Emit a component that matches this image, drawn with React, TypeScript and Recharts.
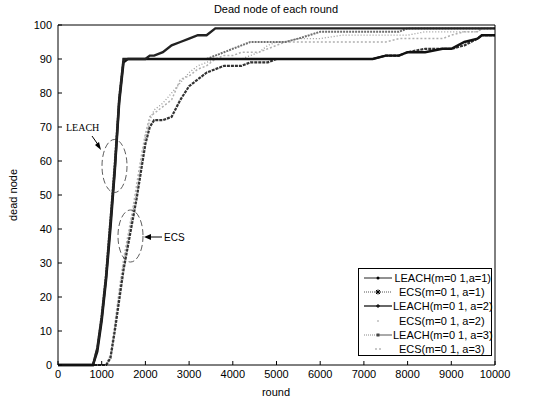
import React from "react";
import { LineChart, Line, XAxis, YAxis } from "recharts";

// rounds sampled along the x axis
const rounds = [
  0, 700, 800, 900, 1000, 1100, 1200, 1300, 1400, 1500,
  1600, 1700, 1800, 1900, 2000, 2100, 2200, 2400, 2600, 2800,
  3000, 3200, 3400, 3600, 3800, 4000, 4200, 4400, 4600, 4800,
  5000, 5200, 5500, 6000, 6500, 7000, 7200, 7500, 7800, 8000,
  8400, 8800, 9000, 9300, 9600, 9700, 10000,
];

const leachA1 = [
  0, 0, 0, 5, 14, 26, 42, 58, 78, 90,
  90, 90, 90, 90, 90, 91, 91, 92, 94, 95,
  96, 97, 97, 99, 99, 99, 99, 99, 99, 99,
  99, 99, 99, 99, 99, 99, 99, 99, 99, 99,
  99, 99, 99, 99, 99, 99, 99,
];
const leachA2 = [
  0, 0, 0, 4, 13, 25, 40, 57, 77, 89,
  90, 90, 90, 90, 90, 90, 90, 90, 90, 90,
  90, 90, 90, 90, 90, 90, 90, 90, 90, 90,
  90, 90, 90, 90, 90, 90, 90, 91, 91, 92,
  92, 93, 93, 95, 96, 97, 97,
];
const leachA3 = [
  0, 0, 0, 5, 15, 27, 43, 60, 79, 90,
  90, 90, 90, 90, 90, 90, 90, 90, 90, 90,
  90, 90, 90, 91, 92, 93, 94, 95, 95, 95,
  95, 95, 96, 98, 98, 98, 98, 98, 98, 99,
  99, 99, 99, 99, 99, 99, 99,
];
const ecsA1 = [
  0, 0, 0, 0, 0, 0, 2, 10, 19, 28,
  35, 42, 49, 57, 65, 70, 72, 72, 73, 78,
  82, 84, 86, 87, 88, 88, 88, 89, 89, 89,
  90, 90, 90, 90, 90, 90, 90, 91, 91, 92,
  93, 93, 93, 94, 96, 97, 97,
];
const ecsA2 = [
  0, 0, 0, 0, 0, 0, 3, 12, 22, 31,
  38, 45, 53, 61, 68, 73, 74, 76, 78, 84,
  85, 87, 88, 90, 91, 91, 92, 92, 92, 93,
  94, 95, 95, 95, 95, 95, 95, 95, 96, 96,
  96, 96, 97, 98, 98, 99, 99,
];
const ecsA3 = [
  0, 0, 0, 0, 0, 0, 2, 11, 21, 30,
  37, 44, 51, 59, 67, 72, 75, 77, 80, 83,
  86, 88, 89, 90, 90, 90, 90, 91, 92, 94,
  95, 95, 96, 96, 97, 97, 97, 97, 97, 97,
  98, 98, 98, 98, 98, 99, 99,
];

const xTicks = [0, 1000, 2000, 3000, 4000, 5000, 6000, 7000, 8000, 9000, 10000];
const yTicks = [0, 10, 20, 30, 40, 50, 60, 70, 80, 90, 100];

const seriesNames = [
  "LEACH(m=0 1,a=1)",
  "ECS(m=0 1, a=1)",
  "LEACH(m=0 1, a=2)",
  "ECS(m=0 1, a=2)",
  "LEACH(m=0 1, a=3)",
  "ECS(m=0 1, a=3)",
];

const data = rounds.map((r, i) => ({
  round: r,
  l1: leachA1[i],
  e1: ecsA1[i],
  l2: leachA2[i],
  e2: ecsA2[i],
  l3: leachA3[i],
  e3: ecsA3[i],
}));

const font = "'Liberation Sans', Arial, sans-serif";

// legend samples, drawn to look like the matlab legend
function LegendSample({ idx }: { idx: number }) {
  const w = 30;
  const c = 7;
  if (idx === 0)
    return (
      <svg width={w} height={14}>
        <line x1={1} y1={c} x2={w - 1} y2={c} stroke="#222" strokeWidth={1} />
        <circle cx={w / 2} cy={c} r={1.5} fill="#000" />
      </svg>
    );
  if (idx === 1)
    return (
      <svg width={w} height={14}>
        <line x1={1} y1={c} x2={w - 1} y2={c} stroke="#555" strokeWidth={1} strokeDasharray="1 1" />
        <path d={`M${w / 2 - 2.5} ${c}h5M${w / 2} ${c - 2.5}v5M${w / 2 - 2} ${c - 2}l4 4M${w / 2 + 2} ${c - 2}l-4 4`} stroke="#000" strokeWidth={1} />
      </svg>
    );
  if (idx === 2)
    return (
      <svg width={w} height={14}>
        <line x1={1} y1={c} x2={w - 1} y2={c} stroke="#000" strokeWidth={1.2} />
        <path d={`M${w / 2 - 2} ${c}h4M${w / 2} ${c - 2}v4`} stroke="#000" strokeWidth={1} />
      </svg>
    );
  if (idx === 3)
    return (
      <svg width={w} height={14}>
        <circle cx={w / 2} cy={c} r={0.7} fill="#777" />
      </svg>
    );
  if (idx === 4)
    return (
      <svg width={w} height={14}>
        <line x1={1} y1={c} x2={w / 2} y2={c} stroke="#888" strokeWidth={1} strokeDasharray="1 1" />
        <line x1={w / 2} y1={c} x2={w - 1} y2={c} stroke="#555" strokeWidth={1} />
        <rect x={w / 2 - 1.5} y={c - 1.5} width={3} height={3} fill="#444" />
      </svg>
    );
  return (
    <svg width={w} height={14}>
      <circle cx={w / 2 - 2} cy={c} r={0.7} fill="#666" />
      <circle cx={w / 2 + 2} cy={c} r={0.7} fill="#666" />
    </svg>
  );
}

export default function App() {
  return (
    <div
      style={{
        position: "absolute",
        left: 0,
        top: 0,
        width: 539,
        height: 403,
        background: "#fff",
        fontFamily: font,
      }}
    >
      <LineChart
        width={539}
        height={403}
        data={data}
        margin={{ top: 24, right: 43, bottom: 18, left: 8 }}
      >
        <XAxis
          dataKey="round"
          type="number"
          domain={[0, 10000]}
          ticks={xTicks}
          interval={0}
          height={20}
          stroke="#000"
          tickSize={-4}
          tickMargin={9}
          tick={{ fill: "#000", fontSize: 11, fontFamily: font }}
        />
        <XAxis
          xAxisId="top"
          orientation="top"
          type="number"
          domain={[0, 10000]}
          ticks={xTicks}
          interval={0}
          height={1}
          stroke="#000"
          tickSize={-4}
          tick={false}
        />
        <YAxis
          type="number"
          domain={[0, 100]}
          ticks={yTicks}
          interval={0}
          width={50}
          stroke="#000"
          tickSize={-4}
          tickMargin={10}
          tick={{ fill: "#000", fontSize: 11, fontFamily: font }}
        />
        <YAxis
          yAxisId="right"
          orientation="right"
          type="number"
          domain={[0, 100]}
          ticks={yTicks}
          interval={0}
          width={1}
          stroke="#000"
          tickSize={-4}
          tick={false}
        />
        <Line dataKey="e3" stroke="#9a9a9a" strokeWidth={1.3} strokeDasharray="1 2" dot={false} isAnimationActive={false} />
        <Line dataKey="e2" stroke="#b0b0b0" strokeWidth={1.5} strokeDasharray="2 2" dot={false} isAnimationActive={false} />
        <Line dataKey="l3" stroke="#707070" strokeWidth={2} strokeDasharray="2 1" dot={false} isAnimationActive={false} />
        <Line dataKey="e1" stroke="#333" strokeWidth={2.2} strokeDasharray="3 1" dot={false} isAnimationActive={false} />
        <Line dataKey="l2" stroke="#111" strokeWidth={2.4} dot={false} isAnimationActive={false} />
        <Line dataKey="l1" stroke="#222" strokeWidth={2.4} dot={false} isAnimationActive={false} />
      </LineChart>

      {/* title and axis labels */}
      <div style={{ position: "absolute", left: 0, width: 552, top: 3, textAlign: "center", fontSize: 11, color: "#000" }}>
        Dead node of each round
      </div>
      <div style={{ position: "absolute", left: 0, width: 552, top: 386, textAlign: "center", fontSize: 11, color: "#000" }}>
        round
      </div>
      <div
        style={{
          position: "absolute",
          left: 13,
          top: 195,
          fontSize: 11,
          color: "#000",
          whiteSpace: "nowrap",
          transform: "translate(-50%, -50%) rotate(-90deg)",
        }}
      >
        dead node
      </div>

      {/* hand-drawn annotations */}
      <svg style={{ position: "absolute", left: 0, top: 0 }} width={539} height={403}>
        <ellipse cx={114.5} cy={166} rx={12.5} ry={26.5} fill="none" stroke="#333" strokeWidth={0.8} strokeDasharray="6 3" />
        <ellipse cx={130.5} cy={236} rx={12.5} ry={26} fill="none" stroke="#333" strokeWidth={0.8} strokeDasharray="6 3" />
        <line x1={92} y1={136} x2={99} y2={146} stroke="#000" strokeWidth={1} />
        <path d="M101 150 L95 145 L99 142 Z" fill="#000" />
        <line x1={162} y1={237} x2={149} y2={237} stroke="#000" strokeWidth={1} />
        <path d="M144 237 L151 234 L151 240 Z" fill="#000" />
        <text x={66} y={131} fontFamily="'Liberation Serif', 'Times New Roman', serif" fontSize={10} fill="#000">
          LEACH
        </text>
        <text x={164} y={241} fontFamily={font} fontSize={10} fill="#000">
          ECS
        </text>
      </svg>

      {/* legend */}
      <div
        style={{
          position: "absolute",
          left: 358,
          top: 268,
          width: 134,
          height: 88,
          border: "1px solid #000",
          background: "#fff",
          paddingTop: 2,
          boxSizing: "border-box",
        }}
      >
        {seriesNames.map((name, i) => (
          <div key={name} style={{ display: "flex", alignItems: "center", height: 14.2, fontSize: 11, color: "#000" }}>
            <div style={{ width: 36, paddingLeft: 4, display: "flex" }}>
              <LegendSample idx={i} />
            </div>
            <span style={{ whiteSpace: "nowrap" }}>{name}</span>
          </div>
        ))}
      </div>
    </div>
  );
}
